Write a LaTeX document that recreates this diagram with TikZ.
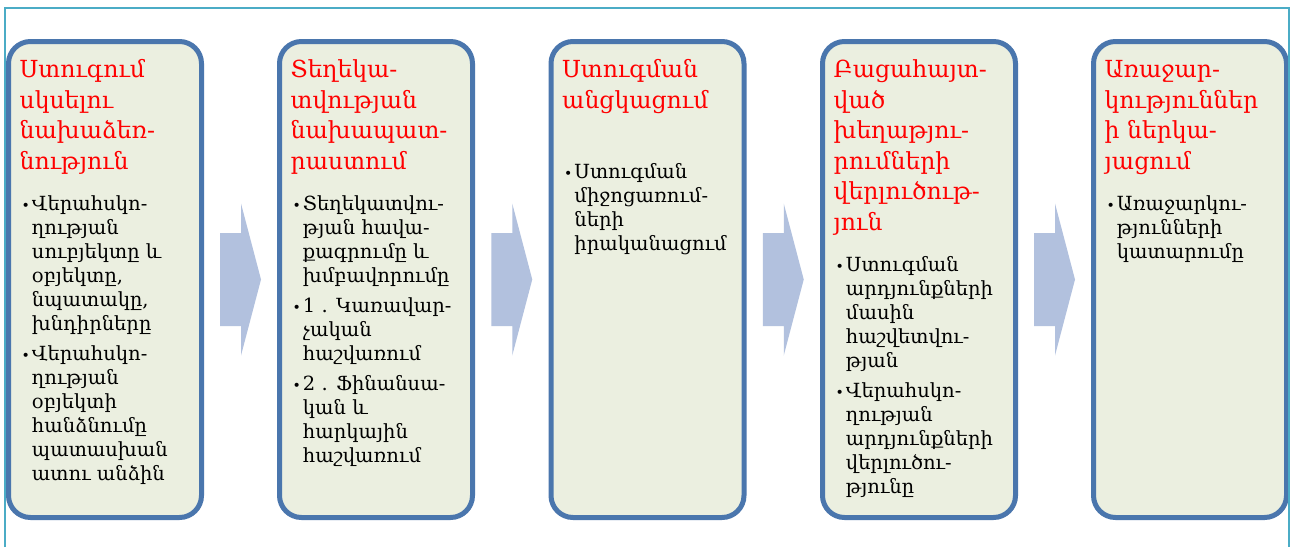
\documentclass[tikz,border=0pt]{standalone}
\usepackage{fontspec}
\setmainfont{DejaVu Serif}
\usetikzlibrary{positioning,calc}

\definecolor{framecyan}{RGB}{75,172,198}
\definecolor{boxblue}{RGB}{74,118,173}
\definecolor{boxfill}{RGB}{235,239,224}
\definecolor{arrowblue}{RGB}{178,193,222}

\tikzset{
  stagebox/.style={draw=boxblue, fill=boxfill, line width=5pt, rounded corners=22pt,
    minimum width=193pt, minimum height=476pt, inner sep=0pt},
  stagetitle/.style={text=red, font=\fontsize{23.5}{30.5}\selectfont, align=left,
    inner sep=0pt, anchor=north west},
  stagelist/.style={font=\fontsize{19.5}{24}\selectfont, inner sep=0pt},
  flowarrow/.style={fill=arrowblue}
}
\newcommand{\bul}{{\fontsize{14}{14}\selectfont\textbullet}}

\begin{document}
\begin{tikzpicture}[x=1pt,y=1pt]
\useasboundingbox (0,0) rectangle (1290,-547);
\fill[white] (0,0) rectangle (1290,-547);

% stages
\foreach \i/\x in {1/105,2/376,3/647.5,4/919,5/1190}
  \node[stagebox] (s\i) at (\x,-279.5) {};

% arrows between the stages
\foreach \a/\b in {s1/s2,s2/s3,s3/s4,s4/s5}
  \fill[flowarrow] ($(\a.east)!0.5!(\b.west)$) ++(-20.5,46.5) -- ++(21,0) -- ++(0,29.5)
    -- ++(20,-76) -- ++(-20,-76) -- ++(0,29.5) -- ++(-21,0) -- cycle;

% titles
\node[stagetitle] (t1) at ([shift={(13.5,-17)}]s1.north west)
  {\strut Ստուգում\\սկսելու\\նախաձեռ-\\նություն\strut};
\node[stagetitle] (t2) at ([shift={(13.5,-17)}]s2.north west)
  {\strut Տեղեկա-\\տվության\\նախապատ-\\րաստում\strut};
\node[stagetitle] (t3) at ([shift={(13.5,-17)}]s3.north west)
  {\strut Ստուգման\\անցկացում\strut};
\node[stagetitle] (t4) at ([shift={(13.5,-17)}]s4.north west)
  {\strut Բացահայտ-\\ված\\խեղաթյու-\\րումների\\վերլուծութ-\\յուն\strut};
\node[stagetitle] (t5) at ([shift={(13.5,-17)}]s5.north west)
  {\strut Առաջար-\\կություններ\\ի ներկա-\\յացում\strut};

% bullet lists
\node[stagelist, below=15pt of t1.south west, anchor=north west] (l1) {%
  \begin{tabular}{@{\hspace{2pt}}l@{\hspace{2pt}}l@{}}
  \bul & Վերահսկո-\\ & ղության\\ & սուբյեկտը և\\ & օբյեկտը,\\ & նպատակը,\\ & խնդիրները\\[6pt]
  \bul & Վերահսկո-\\ & ղության\\ & օբյեկտի\\ & հանձնումը\\ & պատասխան\\ & ատու անձին
  \end{tabular}};
\node[stagelist, below=15pt of t2.south west, anchor=north west] (l2) {%
  \begin{tabular}{@{\hspace{2pt}}l@{\hspace{2pt}}l@{}}
  \bul & Տեղեկատվու-\\ & թյան հավա-\\ & քագրումը և\\ & խմբավորումը\\[6pt]
  \bul & 1 . Կառավար-\\ & չական\\ & հաշվառում\\[6pt]
  \bul & 2 . Ֆինանսա-\\ & կան և\\ & հարկային\\ & հաշվառում
  \end{tabular}};
\node[stagelist, below=44pt of t3.south west, anchor=north west] (l3) {%
  \begin{tabular}{@{\hspace{2pt}}l@{\hspace{2pt}}l@{}}
  \bul & Ստուգման\\ & միջոցառում-\\ & ների\\ & իրականացում
  \end{tabular}};
\node[stagelist, below=15pt of t4.south west, anchor=north west] (l4) {%
  \begin{tabular}{@{\hspace{2pt}}l@{\hspace{2pt}}l@{}}
  \bul & Ստուգման\\ & արդյունքների\\ & մասին\\ & հաշվետվու-\\ & թյան\\[6pt]
  \bul & Վերահսկո-\\ & ղության\\ & արդյունքների\\ & վերլուծու-\\ & թյունը
  \end{tabular}};
\node[stagelist, below=15pt of t5.south west, anchor=north west] (l5) {%
  \begin{tabular}{@{\hspace{2pt}}l@{\hspace{2pt}}l@{}}
  \bul & Առաջարկու-\\ & թյունների\\ & կատարումը
  \end{tabular}};

% outer frame
\draw[framecyan, line width=1.5pt] (5,-547) -- (5,-8) -- (1289,-8) -- (1289,-547);
\end{tikzpicture}
\end{document}
